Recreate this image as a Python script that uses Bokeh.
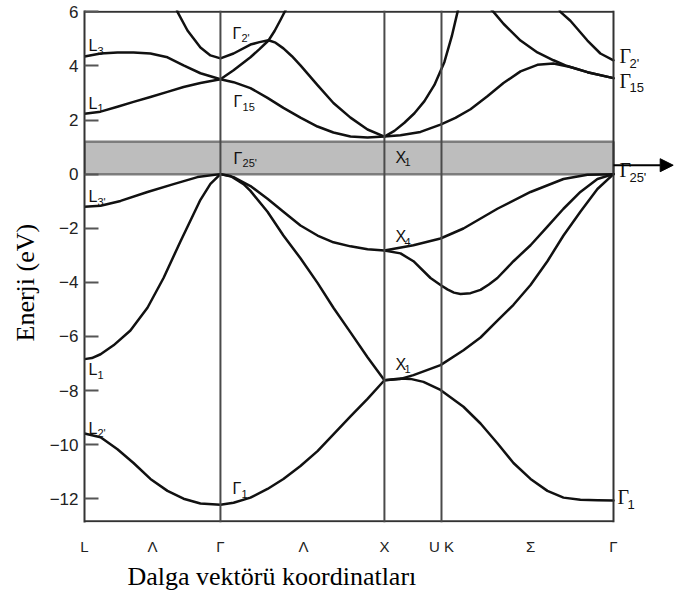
from bokeh.plotting import figure
from bokeh.models import ColumnDataSource, FixedTicker, Range1d, Arrow, NormalHead, Title, Span
from bokeh.core.properties import value
from bokeh.embed import file_html
from bokeh.resources import INLINE

# ---- k path (Γ–X distance = 1) -------------------------------------------
sym_k = [0.0, 0.829, 1.829, 2.177, 3.226]          # L, Γ, X, U/K, Γ
tick_k = [0.0, 0.415, 0.829, 1.335, 1.829, 2.177, 2.720, 3.226]
tick_names = ["L", "Λ", "Γ", "Λ", "X", "U K", "Σ", "Γ"]
energy_ticks = [-12, -10, -8, -6, -4, -2, 0, 2, 4, 6]

gap_bottom, gap_top = 0.0, 1.2
arrow_E = 0.33

# ---- valence bands ---------------------------------------------------------
# L2' -> Γ1 -> X1
band1_k = [0.0, 0.098, 0.201, 0.299, 0.402, 0.506, 0.604, 0.707, 0.829, 0.909, 1.012,
           1.116, 1.213, 1.317, 1.421, 1.518, 1.622, 1.726, 1.829]
band1_E = [-9.59, -9.73, -10.17, -10.68, -11.27, -11.71, -12.00, -12.18, -12.22, -12.15, -11.96,
           -11.64, -11.27, -10.79, -10.24, -9.62, -8.96, -8.31, -7.62]
# X1 -> Γ1
band2_k = [1.829, 1.927, 1.988, 2.067, 2.171, 2.311, 2.415, 2.518, 2.616, 2.720, 2.823,
           2.921, 3.024, 3.128, 3.226]
band2_E = [-7.62, -7.56, -7.57, -7.68, -7.98, -8.60, -9.22, -9.95, -10.68, -11.27, -11.71,
           -11.96, -12.04, -12.06, -12.07]
# L1 -> Γ25'
band3_k = [0.0, 0.045, 0.098, 0.177, 0.280, 0.384, 0.482, 0.585, 0.707, 0.768, 0.829]
band3_E = [-6.84, -6.80, -6.66, -6.33, -5.78, -4.94, -3.84, -2.49, -0.95, -0.36, 0.0]
# Γ25' -> X1 -> Γ25'
band4_k = [0.829, 0.890, 0.970, 1.012, 1.116, 1.213, 1.317, 1.421, 1.518, 1.622, 1.726,
           1.829, 1.927, 2.006, 2.171, 2.311, 2.415, 2.518, 2.616, 2.720, 2.823, 2.921,
           3.024, 3.128, 3.226]
band4_E = [0.0, -0.07, -0.37, -0.62, -1.39, -2.27, -3.11, -4.02, -4.94, -5.85, -6.77,
           -7.62, -7.57, -7.43, -7.06, -6.51, -6.04, -5.42, -4.83, -4.10, -3.22, -2.27,
           -1.39, -0.55, 0.0]
# L3' -> Γ25'
band5_k = [0.0, 0.098, 0.220, 0.384, 0.543, 0.689, 0.829]
band5_E = [-1.21, -1.17, -0.99, -0.66, -0.37, -0.11, 0.0]
# Γ25' -> X4 -> Γ25'
band6_k = [0.829, 0.909, 1.012, 1.116, 1.213, 1.317, 1.421, 1.518, 1.622, 1.726, 1.829,
           2.006, 2.171, 2.311, 2.518, 2.720, 2.921, 3.067, 3.226]
band6_E = [0.0, -0.11, -0.44, -0.91, -1.39, -1.90, -2.27, -2.52, -2.67, -2.78, -2.82,
           -2.63, -2.38, -2.01, -1.28, -0.66, -0.18, -0.02, 0.0]
# X4 -> Σ minimum -> Γ25'
band7_k = [1.829, 1.927, 2.006, 2.110, 2.171, 2.213, 2.253, 2.293, 2.354, 2.415, 2.466,
           2.518, 2.616, 2.720, 2.823, 2.921, 3.024, 3.128, 3.226]
band7_E = [-2.82, -2.93, -3.22, -3.84, -4.10, -4.26, -4.38, -4.43, -4.40, -4.28, -4.08,
           -3.84, -3.22, -2.63, -1.94, -1.28, -0.66, -0.18, 0.0]

# ---- conduction bands ------------------------------------------------------
# L1 -> Γ15 -> X1 -> Γ15
band8_k = [0.0, 0.098, 0.201, 0.299, 0.402, 0.506, 0.604, 0.707, 0.829, 0.909, 1.012,
           1.116, 1.213, 1.317, 1.421, 1.518, 1.622, 1.726, 1.829, 1.927, 2.049, 2.171,
           2.262, 2.354, 2.457, 2.555, 2.659, 2.762, 2.860, 2.963, 3.067, 3.226]
band8_E = [2.23, 2.31, 2.49, 2.67, 2.85, 3.04, 3.22, 3.37, 3.51, 3.40, 3.18,
           2.82, 2.45, 2.09, 1.76, 1.54, 1.39, 1.35, 1.39, 1.44, 1.56, 1.83,
           2.08, 2.40, 2.88, 3.37, 3.80, 4.04, 4.09, 3.96, 3.77, 3.55]
# L3 -> Γ15 -> upward along Δ
band9_k = [0.0, 0.098, 0.201, 0.299, 0.402, 0.506, 0.604, 0.707, 0.829, 0.909, 1.012,
           1.067, 1.122, 1.160, 1.195, 1.225, 1.250]
band9_E = [4.35, 4.46, 4.50, 4.50, 4.46, 4.32, 4.02, 3.73, 3.51, 3.84, 4.32,
           4.62, 4.94, 5.30, 5.70, 6.05, 6.40]
# Γ2' branch -> X1 -> steep branch toward K
band10_k = [0.540, 0.567, 0.628, 0.707, 0.768, 0.829, 0.909, 1.012, 1.067, 1.122, 1.165,
            1.213, 1.265, 1.317, 1.421, 1.518, 1.622, 1.726, 1.829, 1.890, 1.951, 2.012,
            2.073, 2.134, 2.195, 2.240, 2.275, 2.300]
band10_E = [6.60, 6.00, 5.31, 4.68, 4.39, 4.28, 4.46, 4.79, 4.88, 4.95, 4.86,
            4.65, 4.36, 4.02, 3.29, 2.63, 2.09, 1.65, 1.39, 1.60, 1.90, 2.25,
            2.70, 3.30, 4.15, 5.10, 6.00, 6.60]
# Σ branch coming down into Γ15
band11_k = [2.420, 2.494, 2.555, 2.659, 2.762, 2.860, 2.933, 2.963, 3.067, 3.226]
band11_E = [6.50, 6.00, 5.56, 4.94, 4.50, 4.21, 4.02, 3.96, 3.77, 3.55]
# Σ branch coming down into Γ2'
band12_k = [2.870, 2.902, 2.963, 3.067, 3.146, 3.226]
band12_E = [6.50, 6.00, 5.67, 4.94, 4.46, 4.21]

band_ks = [band1_k, band2_k, band3_k, band4_k, band5_k, band6_k,
           band7_k, band8_k, band9_k, band10_k, band11_k, band12_k]
band_Es = [band1_E, band2_E, band3_E, band4_E, band5_E, band6_E,
           band7_E, band8_E, band9_E, band10_E, band11_E, band12_E]

# ---- state labels ----------------------------------------------------------
in_lab_k = [0.024, 0.024, 0.024, 0.024, 0.024, 0.902, 0.902, 0.909, 0.909, 1.896, 1.896, 1.896]
in_lab_E = [4.74, 2.62, -0.84, -7.24, -9.40, -11.64, 5.21, 2.67, 0.59, 0.62, -2.31, -7.03]
in_lab_main = ["L", "L", "L", "L", "L", "Γ", "Γ", "Γ", "Γ", "X", "X", "X"]
in_lab_sub = ["3", "1", "3'", "1", "2'", "1", "2'", "15", "25'", "1", "4", "1"]

rt_lab_k = [3.262, 3.262, 3.262, 3.250]
rt_lab_E = [4.35, 3.45, 0.15, -11.95]
rt_lab_main = ["Γ", "Γ", "Γ", "Γ"]
rt_lab_sub = ["2'", "15", "25'", "1"]

# ---- figure ----------------------------------------------------------------
p = figure(width=674, height=592, output_backend="svg", toolbar_location=None,
           x_range=Range1d(0.0, 3.598), y_range=Range1d(-12.88, 6.05),
           min_border_left=84, min_border_right=0, min_border_top=10, min_border_bottom=66)
p.outline_line_color = None
p.xgrid.visible = False
p.ygrid.visible = False
p.background_fill_color = "white"
p.border_fill_color = "white"

# band gap strip
p.quad(left=sym_k[0], right=sym_k[-1], bottom=gap_bottom, top=gap_top,
       fill_color="#bdbdbd", line_color="#7d7d7d", line_width=2.5)

# symmetry-point verticals and frame
for kx in sym_k[1:4]:
    p.add_layout(Span(location=kx, dimension="height", line_color="#4a4a4a", line_width=2))
p.add_layout(Span(location=sym_k[-1], dimension="height", line_color="#333333", line_width=2))
p.segment(x0=[sym_k[0], sym_k[0]], y0=[energy_ticks[-1], -12.83],
          x1=[sym_k[-1], sym_k[-1]], y1=[energy_ticks[-1], -12.83],
          line_color="#333333", line_width=2)

# bands
p.multi_line(xs=band_ks, ys=band_Es, line_color="#111111", line_width=2.5,
             line_join="round", line_cap="round")

# arrow at the right edge
p.add_layout(Arrow(end=NormalHead(size=13, fill_color="black", line_color="black"),
                   x_start=sym_k[-1], y_start=arrow_E, x_end=3.59, y_end=arrow_E,
                   line_color="black", line_width=2))

# labels
in_src = ColumnDataSource(dict(k=in_lab_k, E=in_lab_E, main=in_lab_main, sub=in_lab_sub))
p.text(x="k", y="E", text="main", source=in_src, text_font=value("Liberation Sans"),
       text_font_size="16px", text_baseline="middle", text_align="left", text_color="#111111")
p.text(x="k", y="E", text="sub", source=in_src, text_font=value("Liberation Sans"),
       text_font_size="11px", text_baseline="middle", text_align="left", text_color="#111111",
       x_offset=9, y_offset=5)

rt_src = ColumnDataSource(dict(k=rt_lab_k, E=rt_lab_E, main=rt_lab_main, sub=rt_lab_sub))
p.text(x="k", y="E", text="main", source=rt_src, text_font=value("Liberation Serif"),
       text_font_size="20px", text_baseline="middle", text_align="left", text_color="#111111")
p.text(x="k", y="E", text="sub", source=rt_src, text_font=value("Liberation Sans"),
       text_font_size="13px", text_baseline="middle", text_align="left", text_color="#111111",
       x_offset=10, y_offset=7)

# axes
p.yaxis.ticker = FixedTicker(ticks=energy_ticks)
p.yaxis.major_tick_in = 14
p.yaxis.major_tick_out = 0
p.yaxis.minor_tick_line_color = None
p.yaxis.major_tick_line_color = "#555555"
p.yaxis.major_tick_line_width = 2
p.yaxis.axis_line_color = "#333333"
p.yaxis.axis_line_width = 2
p.yaxis.major_label_standoff = 6
p.yaxis.major_label_text_font = "Liberation Sans"
p.yaxis.major_label_text_font_size = "17px"
p.yaxis.major_label_text_color = "#222222"

p.xaxis.ticker = FixedTicker(ticks=tick_k)
p.xaxis.major_label_overrides = {t: n for t, n in zip(tick_k, tick_names)}
p.xaxis.major_tick_line_color = None
p.xaxis.minor_tick_line_color = None
p.xaxis.axis_line_color = None
p.xaxis.major_label_standoff = 9
p.xaxis.major_label_text_font = "Liberation Sans"
p.xaxis.major_label_text_font_size = "15px"
p.xaxis.major_label_text_color = "#222222"

p.add_layout(Title(text="Enerji (eV)", align="left", offset=181, standoff=14,
                   text_font="Liberation Serif", text_font_size="26px",
                   text_font_style="normal", text_color="#000000"), "left")
p.add_layout(Title(text="Dalga vektörü koordinatları", align="left", offset=43, standoff=4,
                   text_font="Liberation Serif", text_font_size="26px",
                   text_font_style="normal", text_color="#000000"), "below")

open("out.html", "w").write(file_html(p, INLINE))
